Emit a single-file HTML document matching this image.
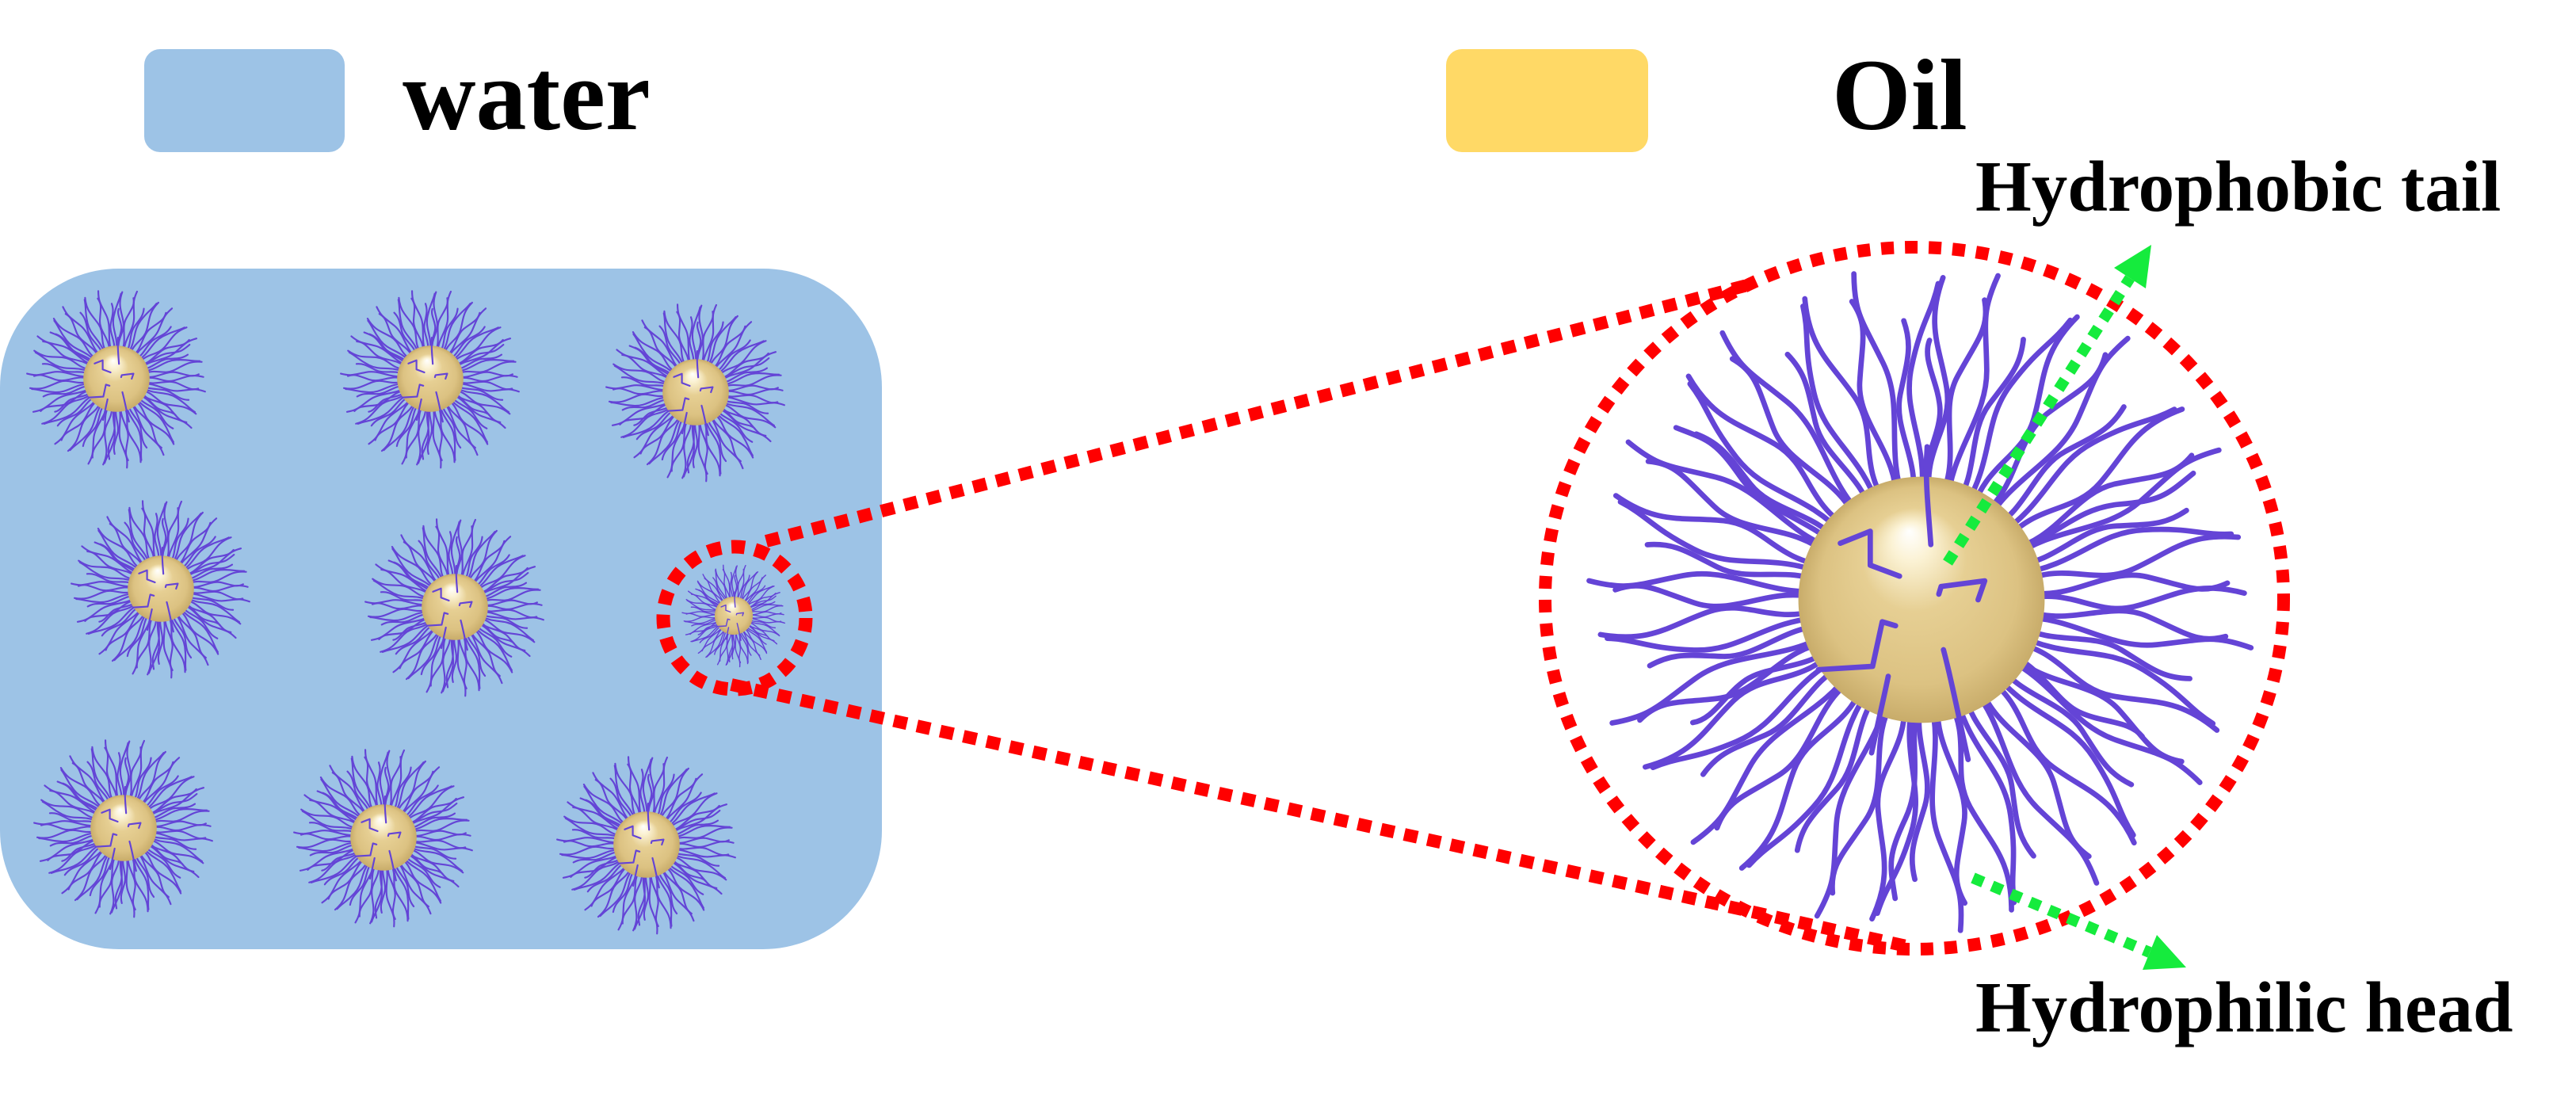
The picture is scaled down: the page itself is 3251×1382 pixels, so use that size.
<!DOCTYPE html>
<html>
<head>
<meta charset="utf-8">
<style>
html,body{margin:0;padding:0;background:#fff;}
svg{display:block;}
text{font-family:"Liberation Serif","Times New Roman",serif;font-weight:bold;fill:#000;}
</style>
</head>
<body>
<svg width="3251" height="1382" viewBox="0 0 3251 1382" xmlns="http://www.w3.org/2000/svg">
<defs>
  <radialGradient id="gold" cx="0.5" cy="0.5" r="0.5" fx="0.45" fy="0.22">
    <stop offset="0" stop-color="#ffffff"/>
    <stop offset="0.16" stop-color="#fbf2d4"/>
    <stop offset="0.42" stop-color="#e6cf93"/>
    <stop offset="0.8" stop-color="#dcc282"/>
    <stop offset="1" stop-color="#c8ac6a"/>
  </radialGradient>
  <path id="ta" d="M30,0 C45,-4 52,5 64,2 S82,-6 97,-2"/>
  <path id="tb" d="M30,0 C44,5 56,-5 68,-1 S84,6 92,3"/>
  <path id="tc" d="M30,0 C46,-3 58,5 72,1 S88,-5 100,-3"/>
  <path id="td" d="M30,0 C42,3 52,-4 62,-1 S76,4 84,2"/>
  <path id="te" d="M30,0 C48,2 56,-6 70,-3 S86,3 95,5"/>
  <path id="tf" d="M30,0 C40,-3 50,4 58,3 S72,-3 78,-1"/>
  <path id="tg" d="M30,0 C44,2 54,-3 66,2 S80,6 90,4"/>
  <g id="tails" fill="none" stroke="#6444D6" stroke-linecap="round">
    <use href="#ta" transform="rotate(0)"/><use href="#tb" transform="rotate(5)"/><use href="#tc" transform="rotate(10)"/><use href="#td" transform="rotate(15)"/><use href="#te" transform="rotate(20)"/>
    <use href="#ta" transform="rotate(25)"/><use href="#tb" transform="rotate(30)"/><use href="#tc" transform="rotate(35)"/><use href="#td" transform="rotate(40)"/><use href="#te" transform="rotate(45)"/>
    <use href="#ta" transform="rotate(50)"/><use href="#tb" transform="rotate(55)"/><use href="#tc" transform="rotate(60)"/><use href="#td" transform="rotate(65)"/><use href="#te" transform="rotate(70)"/>
    <use href="#ta" transform="rotate(75)"/><use href="#tb" transform="rotate(80)"/><use href="#tc" transform="rotate(85)"/><use href="#td" transform="rotate(90)"/><use href="#te" transform="rotate(95)"/>
    <use href="#ta" transform="rotate(100)"/><use href="#tb" transform="rotate(105)"/><use href="#tc" transform="rotate(110)"/><use href="#td" transform="rotate(115)"/><use href="#te" transform="rotate(120)"/>
    <use href="#ta" transform="rotate(125)"/><use href="#tb" transform="rotate(130)"/><use href="#tc" transform="rotate(135)"/><use href="#td" transform="rotate(140)"/><use href="#te" transform="rotate(145)"/>
    <use href="#ta" transform="rotate(150)"/><use href="#tb" transform="rotate(155)"/><use href="#tc" transform="rotate(160)"/><use href="#td" transform="rotate(165)"/><use href="#te" transform="rotate(170)"/>
    <use href="#ta" transform="rotate(175)"/><use href="#tb" transform="rotate(180)"/><use href="#tc" transform="rotate(185)"/><use href="#td" transform="rotate(190)"/><use href="#te" transform="rotate(195)"/>
    <use href="#ta" transform="rotate(200)"/><use href="#tb" transform="rotate(205)"/><use href="#tc" transform="rotate(210)"/><use href="#td" transform="rotate(215)"/><use href="#te" transform="rotate(220)"/>
    <use href="#ta" transform="rotate(225)"/><use href="#tb" transform="rotate(230)"/><use href="#tc" transform="rotate(235)"/><use href="#td" transform="rotate(240)"/><use href="#te" transform="rotate(245)"/>
    <use href="#ta" transform="rotate(250)"/><use href="#tb" transform="rotate(255)"/><use href="#tc" transform="rotate(260)"/><use href="#td" transform="rotate(265)"/><use href="#te" transform="rotate(270)"/>
    <use href="#ta" transform="rotate(275)"/><use href="#tb" transform="rotate(280)"/><use href="#tc" transform="rotate(285)"/><use href="#td" transform="rotate(290)"/><use href="#te" transform="rotate(295)"/>
    <use href="#ta" transform="rotate(300)"/><use href="#tb" transform="rotate(305)"/><use href="#tc" transform="rotate(310)"/><use href="#td" transform="rotate(315)"/><use href="#te" transform="rotate(320)"/>
    <use href="#ta" transform="rotate(325)"/><use href="#tb" transform="rotate(330)"/><use href="#tc" transform="rotate(335)"/><use href="#td" transform="rotate(340)"/><use href="#te" transform="rotate(345)"/>
    <use href="#ta" transform="rotate(350)"/><use href="#tb" transform="rotate(355)"/>
    <use href="#tf" transform="rotate(32.5)"/><use href="#tg" transform="rotate(92.5)"/><use href="#tf" transform="rotate(152.5)"/>
    <use href="#tg" transform="rotate(212.5)"/><use href="#tf" transform="rotate(272.5)"/><use href="#tg" transform="rotate(332.5)"/>
  </g>
  <g id="mic">
    <use href="#tails"/>
    <circle r="37" fill="url(#gold)"/>
    <g fill="none" stroke="#6444D6" stroke-linecap="round" stroke-linejoin="round">
      <path d="M-24.4,-17 L-15.4,-20.6 L-15.4,-10.4 L-6.6,-7.1"/>
      <path d="M5.2,-1.7 L5.9,-4 L19,-5.7 L17,0"/>
      <path d="M-31,21 L-14.7,20 L-11.8,6.6 L-7.8,7.8"/>
      <path d="M2.8,-16.6 C2,-28 1,-36 1.7,-46"/>
      <path d="M6.6,15 C9,24 10.7,33 14,48"/>
      <path d="M-10,23 C-11,28 -12,32 -15,46"/>
    </g>
  </g>
</defs>

<!-- water box -->
<rect x="0" y="339" width="1113" height="859" rx="150" ry="150" fill="#9DC3E6"/>

<!-- legend -->
<rect x="182" y="62" width="253" height="130" rx="20" ry="20" fill="#9DC3E6"/>
<rect x="1825" y="62" width="255" height="130" rx="20" ry="20" fill="#FFD966"/>
<text x="508" y="163" font-size="128">water</text>
<text x="2312" y="163" font-size="128">Oil</text>

<!-- micelles in water -->
<use href="#mic" transform="translate(147,478) scale(1.13)" stroke-width="1.9"/>
<use href="#mic" transform="translate(543,478) scale(1.13)" stroke-width="1.9"/>
<use href="#mic" transform="translate(878,495) scale(1.13)" stroke-width="1.9"/>
<use href="#mic" transform="translate(203,743) scale(1.13)" stroke-width="1.9"/>
<use href="#mic" transform="translate(574,766) scale(1.13)" stroke-width="1.9"/>
<use href="#mic" transform="translate(926,777) scale(0.65)" stroke-width="2.2"/>
<use href="#mic" transform="translate(156,1045) scale(1.13)" stroke-width="1.9"/>
<use href="#mic" transform="translate(484,1057) scale(1.13)" stroke-width="1.9"/>
<use href="#mic" transform="translate(816,1066) scale(1.13)" stroke-width="1.9"/>

<!-- big micelle -->
<use href="#mic" transform="translate(2425,757) scale(4.2)" stroke-width="1.6"/>

<!-- red dashed shapes -->
<g fill="none" stroke="#FF0000" stroke-linecap="butt">
  <ellipse cx="927" cy="780" rx="90" ry="90" stroke-width="17" stroke-dasharray="17 13"/>
  <line x1="967" y1="683" x2="2205" y2="360" stroke-width="16" stroke-dasharray="17 13"/>
  <line x1="923" y1="864" x2="2410" y2="1195" stroke-width="16" stroke-dasharray="17 13"/>
  <ellipse cx="2416" cy="755" rx="466" ry="443" stroke-width="16" stroke-dasharray="16 14"/>
</g>

<!-- green arrows -->
<g>
  <line x1="2458" y1="710" x2="2688" y2="351" stroke="#15EB3D" stroke-width="14" stroke-dasharray="14 12"/>
  <polygon points="2715,309 2668,338 2708,364" fill="#15EB3D"/>
  <line x1="2490" y1="1108" x2="2713" y2="1202" stroke="#15EB3D" stroke-width="14" stroke-dasharray="14 12"/>
  <polygon points="2759,1221 2722,1180 2704,1224" fill="#15EB3D"/>
</g>

<text x="2493" y="266" font-size="91">Hydrophobic tail</text>
<text x="2493" y="1302" font-size="91">Hydrophilic head</text>
</svg>
</body>
</html>
